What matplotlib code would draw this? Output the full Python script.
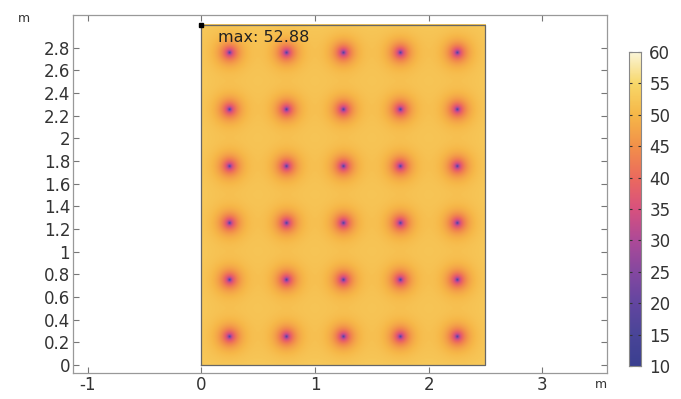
import numpy as np
import matplotlib
matplotlib.use("Agg")
import matplotlib.pyplot as plt
from matplotlib.colors import LinearSegmentedColormap
from matplotlib.ticker import FixedLocator, FuncFormatter

# ---- data ----
spot_x = [0.25, 0.75, 1.25, 1.75, 2.25]
spot_y = [0.25, 0.75, 1.25, 1.75, 2.25, 2.75]
domain_w = 2.5
domain_h = 3.0
t_max = 52.88
t_spot = 10.0
core_len = 0.008
halo_len = 0.065
core_drop = 18.0
halo_drop = 26.0
cbar_ticks = [10, 15, 20, 25, 30, 35, 40, 45, 50, 55, 60]
x_ticks = [-1, 0, 1, 2, 3]
y_ticks = [0, 0.2, 0.4, 0.6, 0.8, 1.0, 1.2, 1.4, 1.6, 1.8, 2.0, 2.2, 2.4, 2.6, 2.8]
max_label = "max: 52.88"

cmap_colors = ["#3a3f90", "#4a4598", "#6346a0", "#8548a0", "#ad4a98", "#d8517e",
               "#ec6a5e", "#f2904a", "#f6b748", "#f8d768", "#fbf5d8"]
cmap = LinearSegmentedColormap.from_list("thermal", cmap_colors)

# ---- field ----
nx, ny = 1000, 1200
xs = np.linspace(0, domain_w, nx)
ys = np.linspace(0, domain_h, ny)
X, Y = np.meshgrid(xs, ys)
base = t_max - 0.4
T = np.full_like(X, base)
for sx in spot_x:
    for sy in spot_y:
        r = np.hypot(X - sx, Y - sy)
        T -= core_drop * np.exp(-r / core_len) + halo_drop * np.exp(-r / halo_len)
edge = np.minimum.reduce([X, domain_w - X, Y, domain_h - Y])
T += 0.4 * np.exp(-edge / 0.05)
T = np.clip(T, t_spot, t_max)

fig = plt.figure(figsize=(6.81, 3.99), dpi=100)
ax = fig.add_axes([73/681, 26/399, 534/681, 358/399])
ax.imshow(T, origin="lower", extent=[0, domain_w, 0, domain_h], cmap=cmap,
          vmin=10, vmax=60, interpolation="bilinear", aspect="auto")
ax.plot([0, domain_w, domain_w, 0, 0], [0, 0, domain_h, domain_h, 0],
        color="#666666", lw=0.9)
ax.plot([0], [domain_h], marker="s", ms=2.5, color="black")
ax.text(0.15, 2.885, max_label, fontsize=11.5, color="#222222", va="center")

ax.set_xlim(-1.13, 3.57)
ax.set_ylim(-0.07, 3.087)
ax.xaxis.set_major_locator(FixedLocator(x_ticks))
ax.yaxis.set_major_locator(FixedLocator(y_ticks))
fmt = FuncFormatter(lambda v, p: ("%g" % round(v, 2)))
ax.xaxis.set_major_formatter(fmt)
ax.yaxis.set_major_formatter(fmt)
ax.tick_params(direction="in", length=4, width=0.8, color="#777777",
               labelsize=12, labelcolor="#333333", top=True, right=True,
               pad=2)
for s in ax.spines.values():
    s.set_color("#999999")
    s.set_linewidth(0.9)

fig.text(18/681, 1 - 18/399, "m", fontsize=9, color="#333333", ha="left", va="center")
fig.text(601/681, 1 - 385/399, "m", fontsize=9, color="#333333", ha="center", va="center")

# ---- colorbar ----
cax = fig.add_axes([629/681, (399-366)/399, 12/681, 314/399])
grad = np.linspace(10, 60, 256).reshape(-1, 1)
cax.imshow(grad, origin="lower", extent=[0, 1, 10, 60], cmap=cmap,
           vmin=10, vmax=60, aspect="auto")
cax.set_xlim(0, 1)
cax.set_ylim(10, 60)
cax.set_xticks([])
cax.yaxis.set_major_locator(FixedLocator(cbar_ticks))
cax.yaxis.tick_right()
cax.tick_params(axis="y", direction="in", length=2.5, width=0.8, color="#333333",
                labelsize=12, labelcolor="#333333", left=True, right=True,
                labelleft=False, labelright=True, pad=6)
for s in cax.spines.values():
    s.set_color("#888888")
    s.set_linewidth(0.8)

fig.savefig("out.png", dpi=100)
